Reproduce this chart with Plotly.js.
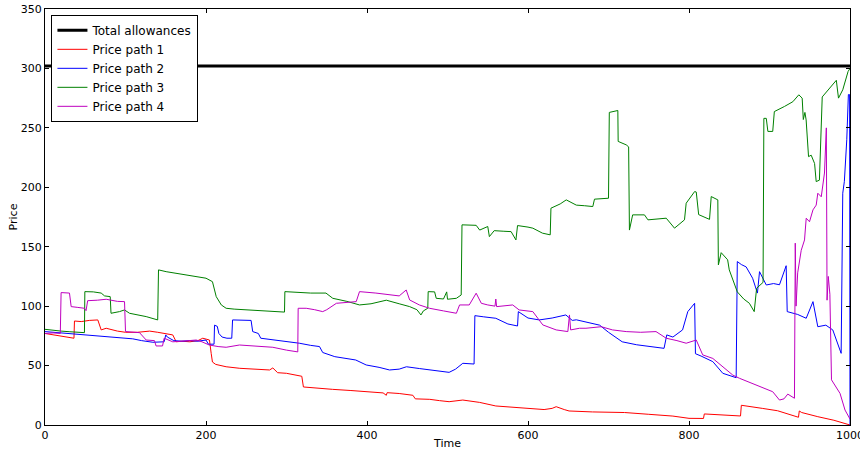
<!DOCTYPE html>
<html>
<head>
<meta charset="utf-8">
<script src="https://cdn.plot.ly/plotly-3.0.1.min.js"></script>
<style>html,body{margin:0;padding:0;background:#fff;}#chart{width:860px;height:450px;}</style>
</head>
<body>
<div id="chart"></div>
<script>
// Data: [time, price] pairs
const totalAllowances = 302;
const timeRange = [0, 1000];
const xTicks = [0, 200, 400, 600, 800, 1000];
const yTicks = [0, 50, 100, 150, 200, 250, 300, 350];
const seriesNames = ["Total allowances", "Price path 1", "Price path 2", "Price path 3", "Price path 4"];

const path1 = [[0,77],[10,76],[20,75],[30,74],[36,73],[36.6,87.5],[45,87],[55,88],[61.5,88.4],[65.6,88.4],[69.8,80],[76,81.4],[90,79],[100,78],[115,78],[130,79],[140,78],[150,76.6],[158.7,75.8],[163,70],[170,70.5],[180,70],[190,71],[196,73],[204.3,71.5],[206.5,60],[208,53],[212,51],[225,49],[242,47.7],[260,47],[279,46.3],[283,48],[286,46],[289,44],[300,43.5],[312,42],[319,41],[321,32],[335,31],[357,30],[380,29],[403,28],[420,27],[424,25],[425,27.2],[440,26.5],[457,25],[460,22],[478,21.6],[490,20.5],[502,19.6],[519,21],[540,19],[560,16],[580,15],[602,14],[620,13],[630,14],[635,15.4],[645,13],[651,11.8],[680,11],[709,10.4],[720,10.5],[750,9],[780,7.5],[800,5.6],[818,5.5],[819,9.3],[830,9],[845,8],[864,7.6],[865,16.6],[878,15.5],[891,14],[910,12],[925,9],[936,6.5],[937,11.8],[940,10.5],[960,7],[980,4],[1000,0]];

const path2 = [[0,78.6],[20,77.5],[40,76.5],[60,75.5],[80,74],[100,73],[109,72.5],[120,71],[134,69.6],[148,70],[150,75.8],[152,74],[160,71],[170,70.5],[180,71],[190,70.5],[200,71.5],[203,68],[210,68],[210.6,84],[214,83],[216,77],[220,74],[226,73],[232,73],[233,88.4],[245,88],[256,88],[258,78.6],[265,77],[268,73],[280,72],[290,71.5],[316,68.8],[330,67],[341,66],[345,61],[360,57.5],[386,54.7],[399,50.5],[415,48.5],[428,46.3],[440,47],[449,49],[465,47.5],[478,46.3],[490,45.5],[502,44.3],[510,47],[519,51.9],[533,51.3],[534,92],[545,91],[560,89.8],[575,85],[587,83.3],[588,95.4],[600,90],[614,88.4],[630,90],[647,92.6],[655,88],[660,88.5],[675,86],[689,84],[700,78],[717,70],[735,67.5],[751,66],[769,64.5],[772.4,75.8],[780,74],[792,80],[798.5,95.4],[807,102.4],[808,60],[815,58],[829.6,53.3],[842,43.5],[858.6,39.8],[860,137.5],[865,135],[871,133],[879,123.5],[885,111],[887.6,129],[896,117.8],[905,119],[912.4,118],[920.7,134],[922,95.4],[935,93],[945.6,89.8],[954,103.8],[960,82.7],[970,84],[978.6,80],[989,60.3],[991,195],[993,205],[996,240],[998,278],[999.5,278],[1000,0]];

const path3 = [[0,80.5],[10,79.5],[20,79],[30,78.5],[40,78],[49,77.7],[49.5,112.2],[60,112],[69.8,111],[74,108.6],[81,108],[82,94],[92.5,95.4],[98.8,96.8],[105,94],[115,92.5],[125.7,91.2],[140,88.4],[141,130.5],[150.5,129],[165,127.5],[179.5,126],[190,125],[200,123.5],[208,120.6],[212.7,108],[219,101],[225,98.2],[235,97.5],[250,96.8],[265,96],[283,95.4],[297.5,95],[298,112.2],[316,111.4],[330,111],[349,111],[357.5,106.6],[375,104],[390.7,101],[405,102],[424,105],[440,102],[453,99.6],[462,97],[467,92.6],[470,96],[475.5,98.2],[476,112.2],[484,112],[486,106.6],[495,106],[499,112],[500,105.8],[511,106.6],[517,109.4],[518,168.4],[535.6,168],[540,164],[550,167],[552,158.5],[558,163.5],[570,163],[579,162.7],[585,155.7],[587,167.8],[600,166.5],[606,165.6],[618,161.4],[627.6,160],[628.5,182.4],[640,186],[647.5,189.4],[660,185],[670,184.5],[680.5,183.8],[682.6,190],[700,190.8],[701,263],[711.6,264.6],[712,238.6],[722,235.7],[725,234],[726,164],[730,176.8],[744.7,176.8],[749,172.6],[760,173.5],[771.7,174],[782,165.6],[794.4,172.6],[796.5,186.6],[807,196.4],[809,196],[812,177],[825.5,173],[827.6,192.2],[835.8,189.4],[836.5,134.7],[840,145],[848,139],[850,130.5],[855,122],[860,112],[868,106],[875,102.4],[881,95.4],[884,115],[892,120],[893,258],[896,258],[898,247],[904,247],[906,263.7],[918.6,268],[929,272],[936.4,277.8],[940.6,275],[942,257],[944,263],[945.5,256.7],[948.5,225.8],[951.8,227],[956,220],[958,204.8],[962,206],[965.5,276],[974.5,283.4],[983,290],[985.7,275],[991,282],[997.6,297.4],[1000,300]];

const path4 = [[0,77],[10,77.5],[19,77],[20,111.4],[30.4,111],[32.5,99.6],[40,99],[49,98.2],[51,96.2],[53,104.6],[65,105],[76,105.8],[90,104],[98.8,103.8],[100,78.6],[110,78],[117.4,77.7],[125.7,71.5],[136,71],[138,66.5],[146,66.5],[148,73],[158.7,70],[170,70.5],[187.8,71.5],[195,70],[204,67.3],[215,66],[225,65.4],[241.6,67.3],[260,66.5],[283,65.4],[300,63],[310,61.7],[314,61.5],[314.5,98.2],[324.5,98.2],[335,97],[345,95.4],[350,97],[362,102.4],[386.6,103.8],[390.7,112.2],[411,111],[425,110],[440,108.6],[448.7,113.6],[453,105.2],[465,101],[477.6,98.2],[495,96],[511,94],[515,101],[527,101],[535.6,110.9],[542,102.4],[550,101],[559,100],[560,106],[561,99.6],[581,101],[589,96.8],[606,95.4],[618.4,84.2],[635,80],[649.5,78.6],[651.5,92.6],[653,80],[664,81.4],[672,81.4],[691,82.7],[705,80],[722,78.6],[740,78],[759,78.6],[771.7,73],[785,71],[796.5,68.8],[809,71.5],[817,59],[829.6,56],[842,49],[854.4,42],[862.7,39.3],[875,36],[887.6,32.2],[904,28],[912.4,21],[918,22],[922.7,26],[931,22.5],[932,153],[933,100],[935,128],[939.4,147],[943.5,155.7],[945.6,174],[949.7,171],[954,181],[958,185],[960,195],[964.3,192],[968.3,212],[970.6,250],[971.5,105],[973,125],[975,110],[977,38],[987.6,26.6],[993.8,12.6],[999,7],[1000,5]];

const paths = [path1, path2, path3, path4];
const colors = ["#ff0000", "#0000ff", "#008000", "#bf00bf"];

const traces = [{
  x: timeRange, y: [totalAllowances, totalAllowances],
  mode: "lines", name: seriesNames[0],
  line: {color: "#000000", width: 3}
}];
paths.forEach((p, i) => {
  traces.push({
    x: p.map(d => d[0]), y: p.map(d => d[1]),
    mode: "lines", name: seriesNames[i + 1],
    line: {color: colors[i], width: 1}
  });
});

const font = {family: "DejaVu Sans, sans-serif", size: 11, color: "#000"};
const layout = {
  width: 860, height: 450,
  margin: {l: 45, r: 10, t: 9, b: 25, pad: 0},
  paper_bgcolor: "#fff", plot_bgcolor: "#fff",
  font: font,
  showlegend: true,
  legend: {
    x: 0.008, y: 0.986, xanchor: "left", yanchor: "top",
    bgcolor: "#fff", bordercolor: "#000", borderwidth: 1,
    font: {family: "DejaVu Sans, sans-serif", size: 12, color: "#000"},
    tracegroupgap: 0, itemwidth: 30
  },
  xaxis: {
    range: [0, 1000], tickvals: xTicks, ticktext: xTicks.map(String),
    ticks: "inside", ticklen: 4, tickcolor: "#000", mirror: "ticks",
    showline: true, linecolor: "#000", linewidth: 1,
    showgrid: false, zeroline: false, automargin: false,
    ticklabeloverflow: "allow",
    tickfont: font,
    title: {text: "Time", font: font, standoff: 2}
  },
  yaxis: {
    range: [0, 350], tickvals: yTicks, ticktext: yTicks.map(String),
    ticks: "inside", ticklen: 4, tickcolor: "#000", mirror: "ticks",
    showline: true, linecolor: "#000", linewidth: 1,
    showgrid: false, zeroline: false, automargin: false,
    ticklabeloverflow: "allow",
    tickfont: font,
    title: {text: "Price", font: font, standoff: 0}
  }
};

Plotly.newPlot("chart", traces, layout, {displayModeBar: false, staticPlot: true});
</script>
</body>
</html>
